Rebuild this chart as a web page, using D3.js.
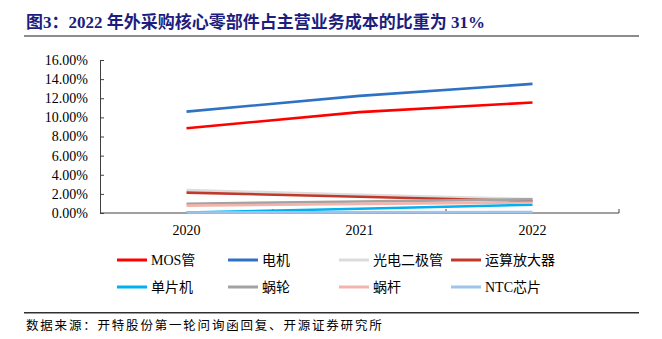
<!DOCTYPE html>
<html>
<head>
<meta charset="utf-8">
<script src="https://cdn.jsdelivr.net/npm/d3@7"></script>
<style>
	body{margin:0;background:#fff;}
	svg{display:block;}
</style>
</head>
<body>
<div class="chart"></div>
<script>
/* ======== data ======== */
var years = ['2020', '2021', '2022'];
var seriesNames = ['MOS管', '电机', '光电二极管', '运算放大器', '单片机', '蜗轮', '蜗杆', 'NTC芯片'];
var mos      = [8.86, 10.55, 11.55];
var motor    = [10.60, 12.25, 13.50];
var photo    = [2.40, 1.90, 1.45];
var opamp    = [2.13, 1.70, 1.25];
var mcu      = [0.05, 0.45, 0.87];
var wormGear = [0.97, 1.20, 1.43];
var worm     = [0.77, 0.95, 1.10];
var ntc      = [0.05, 0.08, 0.10];
var yTicks = [0, 2, 4, 6, 8, 10, 12, 14, 16];
var seriesValues = [mos, motor, photo, opamp, mcu, wormGear, worm, ntc];
var seriesColors = ['#ff0000', '#2f72c4', '#dcdcdc', '#c0392b', '#00b0f0', '#a3a3a3', '#f2b4ac', '#9fc3ea'];

var width = 662, height = 339;
var serif = '"Liberation Serif", "Times New Roman", "Noto Sans CJK SC", serif';
var axisColor = '#404040';

var svg = d3.select('.chart').append('svg')
	.attr('width', width)
	.attr('height', height);

// title
svg.append('text')
	.attr('x', 26)
	.attr('y', 28)
	.attr('font-family', serif)
	.attr('font-size', 17)
	.attr('font-weight', 'bold')
	.attr('fill', '#1d1d7e')
	.text('图3：2022 年外采购核心零部件占主营业务成本的比重为 31%');
svg.append('rect')
	.attr('x', 24).attr('y', 35)
	.attr('width', 615).attr('height', 2)
	.attr('fill', '#8c8c8c');

// scales
var x = d3.scaleBand().domain(years).range([100, 619]);
var y = d3.scaleLinear().domain([0, 16]).range([213, 60]);

// y axis
var yAxis = svg.append('g')
	.attr('transform', 'translate(100,0)')
	.call(d3.axisLeft(y).tickValues(yTicks).tickSize(-4).tickPadding(12)
		.tickFormat(function(d){ return d.toFixed(2) + '%'; }));
yAxis.select('.domain').attr('stroke', axisColor);
yAxis.selectAll('.tick line').attr('stroke', axisColor);
yAxis.selectAll('text')
	.attr('font-family', serif)
	.attr('font-size', 14)
	.attr('fill', '#000');

// x axis: ticks between categories, pointing up
var xAxisG = svg.append('g').attr('transform', 'translate(0,213)');
xAxisG.append('line')
	.attr('x1', 100).attr('x2', 619)
	.attr('stroke', axisColor);
var bounds = years.map(function(d){ return x(d) + x.bandwidth(); });
xAxisG.selectAll('.xtick').data(bounds).enter().append('line')
	.attr('x1', function(d){ return d; })
	.attr('x2', function(d){ return d; })
	.attr('y1', 0).attr('y2', -4)
	.attr('stroke', axisColor);
xAxisG.selectAll('.xlabel').data(years).enter().append('text')
	.attr('x', function(d){ return x(d) + x.bandwidth() / 2; })
	.attr('y', 22)
	.attr('text-anchor', 'middle')
	.attr('font-family', serif)
	.attr('font-size', 14)
	.attr('fill', '#000')
	.text(function(d){ return d; });

// lines
var line = d3.line()
	.x(function(d, i){ return x(years[i]) + x.bandwidth() / 2; })
	.y(function(d){ return y(d); });
seriesValues.forEach(function(vals, i){
	svg.append('path')
		.datum(vals)
		.attr('d', line)
		.attr('fill', 'none')
		.attr('stroke', seriesColors[i])
		.attr('stroke-width', 2.6);
});

// legend
var legendX = [117, 228, 339, 451];
var legendY = [260, 287];
seriesNames.forEach(function(name, i){
	var lx = legendX[i % 4], ly = legendY[Math.floor(i / 4)];
	svg.append('line')
		.attr('x1', lx).attr('x2', lx + 30)
		.attr('y1', ly).attr('y2', ly)
		.attr('stroke', seriesColors[i])
		.attr('stroke-width', 3);
	svg.append('text')
		.attr('x', lx + 34)
		.attr('y', ly + 5)
		.attr('font-family', serif)
		.attr('font-size', 14)
		.attr('fill', '#000')
		.text(name);
});

// source
svg.append('rect')
	.attr('x', 24).attr('y', 312)
	.attr('width', 615).attr('height', 1.5)
	.attr('fill', '#303030');
svg.append('text')
	.attr('x', 26)
	.attr('y', 330)
	.attr('font-family', '"Noto Sans CJK SC", sans-serif')
	.attr('font-size', 12.5)
	.attr('letter-spacing', 1.8)
	.attr('fill', '#000')
	.text('数据来源：开特股份第一轮问询函回复、开源证券研究所');
</script>
</body>
</html>
